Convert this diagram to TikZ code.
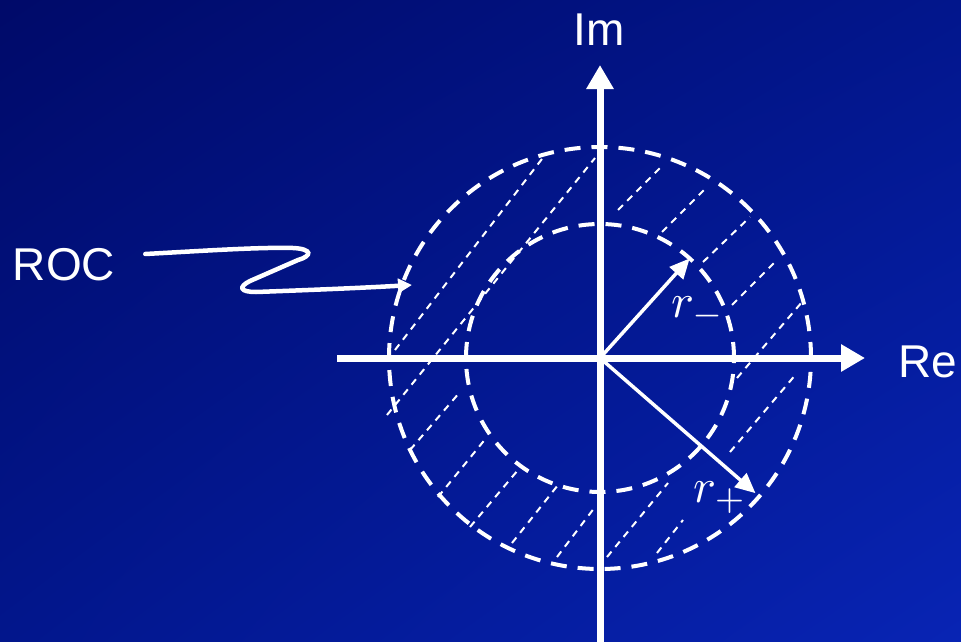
\documentclass[tikz,border=0pt]{standalone}
\usepackage{fontspec}
\setmainfont{Liberation Sans}
\usepackage{amsmath}
\usepackage{tikz}
\usetikzlibrary{arrows.meta, positioning, shadings}
\definecolor{bgdark}{RGB}{0,10,105}
\definecolor{bgmid}{RGB}{2,22,140}
\definecolor{bglight}{RGB}{8,36,180}
\newcommand{\radlabel}[1]{\scalebox{4.8}{$#1$}}

\begin{document}
\begin{tikzpicture}[x=1pt,y=-1pt,
    axis/.style={line width=7pt,white,-{Triangle[length=24pt,width=26pt]}},
    ring/.style={circle,draw=white,line width=4pt,dash pattern=on 16pt off 11pt,
                 inner sep=0pt,outer sep=0pt},
    hatch/.style={white,line width=2pt,dash pattern=on 7pt off 6pt},
    radius arrow/.style={white,line width=3.5pt,-{Triangle[length=20pt,width=18pt]}},
    lbl/.style={text=white,font=\fontsize{46}{50}\selectfont,inner sep=0pt},
    radlbl/.style={text=white,font=\normalsize,inner sep=0pt,anchor=base west}]

  % background
  \shade[upper left=bgdark,upper right=bgmid,lower left=bgmid,lower right=bglight]
    (0,0) rectangle (961,642);
  \useasboundingbox (0,0) rectangle (961,642);

  % hatching of the annulus
  \foreach \xa/\ya/\xb/\yb in {395/350/545/155, 387/415/595/158, 410/450/460/392,
      438/497/487/437, 470/527/518/470, 512/543/558/485, 557/557/595/507,
      607/557/668/483, 657/553/683/520, 730/452/797/373, 737/378/802/302,
      732/305/777/260, 703/262/750/217, 662/232/707/187, 618/210/663/165}
    \draw[hatch] (\xa,\ya) -- (\xb,\yb);

  % circles
  \coordinate (O) at (600,358);
  \node[ring,minimum size=422pt] (outer) at (O) {};
  \node[ring,minimum size=268pt] (inner) at (O) {};

  % axes
  \coordinate (xl) at (337,358);
  \coordinate (xr) at (865,358);
  \coordinate (yb) at (600,645);
  \coordinate (yt) at (600,65);
  \draw[axis] (xl) -- (xr);
  \draw[axis] (yb) -- (yt);
  \node[lbl] (im) at (599,30) {Im};
  \node[lbl] (re) at (928,362) {Re};

  % radii
  \draw[radius arrow] (O) -- (inner.48);
  \draw[radius arrow,shorten >=5pt] (O) -- (outer.-41);
  \node[radlbl] (rminus) at (671,317) {\radlabel{r_-}};
  \node[radlbl] (rplus) at (693,502) {\radlabel{r_+}};

  % region of convergence
  \node[lbl] (roc) at (64,265) {ROC};
  \coordinate (roctip) at (412,285);
  \draw[white,line width=4.5pt,line cap=round,-{Triangle[length=14pt,width=14pt]}]
    ([shift={(30,-11)}]roc.east) .. controls (200,251) and (260,247) .. (293,248)
    .. controls (313,249) and (312,256) .. (298,260) -- (250,281)
    .. controls (238,287) and (240,292) .. (256,292)
    .. controls (310,290) and (360,288) .. (roctip);
\end{tikzpicture}
\end{document}
